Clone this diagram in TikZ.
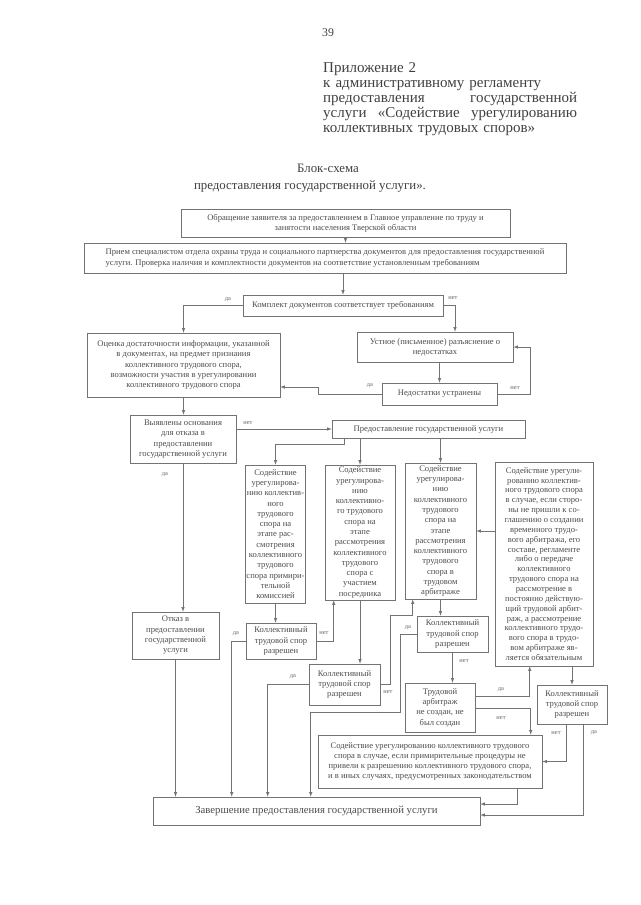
\documentclass[tikz,border=0pt]{standalone}
\usepackage{fontspec}
\setmainfont{Liberation Serif}
\usetikzlibrary{arrows.meta,calc,positioning}

\tikzset{
  blk/.style={draw=black!55, line width=0.5pt, text=black!70, align=center, inner sep=1pt, font=\fontsize{8}{9.6}\selectfont},
  sz/.style 2 args={minimum width=#1*0.0328125cm, minimum height=#2*0.0328125cm},
  lbl/.style={font=\fontsize{6}{7}\selectfont, text=black!60, inner sep=0pt},
  con/.style={draw=black!55, line width=0.5pt, -latex},
}

\begin{document}
\begin{tikzpicture}[x=0.0328125cm, y=-0.0328125cm]
\useasboundingbox[fill=white] (0,0) rectangle (640,905);
    % Heading
    \node[text=black!75, font=\fontsize{11}{12}\selectfont] (pg) at (328,33) {39};
    \node[anchor=north west, inner sep=0pt, text width=8.33cm, align=left, text=black!75, font=\fontsize{14}{14.2}\selectfont] (pril) at (323,62) {Приложение 2\\к административному регламенту\\предоставления\hfill государственной\\услуги\hfill «Содействие\hfill урегулированию\\коллективных трудовых споров»};
    \node[text=black!75, font=\fontsize{12}{14}\selectfont] (tit1) at (328,168) {Блок-схема};
    \node[text=black!75, font=\fontsize{12}{14}\selectfont] (tit2) at (310,186) {предоставления государственной услуги».};
    % Steps before the service
    \node[blk, sz={329}{28}] (obr) at (345.5,223) {Обращение заявителя за предоставлением в Главное управление по труду и\\занятости населения Тверской области};
    \node[blk, sz={482}{30}, align=left] (priem) at (325,258) {Прием специалистом отдела охраны труда и социального партнерства документов для предоставления государственной\\услуги. Проверка наличия и комплектности документов на соответствие установленным требованиям};
    \node[blk, sz={200}{21}] (kompl) at (343,305.5) {Комплект документов соответствует требованиям};
    \node[blk, sz={193}{64}] (ocenka) at (183.5,365) {Оценка достаточности информации, указанной\\в документах, на предмет признания\\коллективного трудового спора,\\возможности участия в урегулировании\\коллективного трудового спора};
    \node[blk, sz={156}{30}] (razyasn) at (435,347) {Устное (письменное) разъяснение о\\недостатках};
    \node[blk, sz={115}{22}] (ustr) at (439.5,394) {Недостатки устранены};
    \node[blk, sz={106}{48}] (osnov) at (183,439) {Выявлены основания\\для отказа в\\предоставлении\\государственной услуги};
    \node[blk, sz={193}{18}] (predost) at (428.5,429) {Предоставление государственной услуги};
    \node[blk, sz={87}{47}] (otkaz) at (175.5,635.5) {Отказ в\\предоставлении\\государственной\\услуги};
    % Four ways of settling
    \node[blk, sz={57}{138}] (komis) at (275.5,534) {Содействие\\урегулирова-\\нию коллектив-\\ного\\трудового\\спора на\\этапе рас-\\смотрения\\коллективного\\трудового\\спора примири-\\тельной\\комиссией};
    \node[blk, sz={70}{135}] (posred) at (360,532.5) {Содействие\\урегулирова-\\нию\\коллективно-\\го трудового\\спора на\\этапе\\рассмотрения\\коллективного\\трудового\\спора с\\участием\\посредника};
    \node[blk, sz={71}{136}] (arbitr) at (440.5,531) {Содействие\\урегулирова-\\нию\\коллективного\\трудового\\спора на\\этапе\\рассмотрения\\коллективного\\трудового\\спора в\\трудовом\\арбитраже};
    \node[blk, sz={98}{204}, font=\fontsize{8}{9.2}\selectfont] (nesogl) at (544,564) {Содействие урегули-\\рованию коллектив-\\ного трудового спора\\в случае, если сторо-\\ны не пришли к со-\\глашению о создании\\временного трудо-\\вого арбитража, его\\составе, регламенте\\либо о передаче\\коллективного\\трудового спора на\\рассмотрение в\\постоянно действую-\\щий трудовой арбит-\\раж, а рассмотрение\\коллективного трудо-\\вого спора в трудо-\\вом арбитраже яв-\\ляется обязательным};
    % Outcomes
    \node[blk, sz={70}{36}] (razr1) at (281,641) {Коллективный\\трудовой спор\\разрешен};
    \node[blk, sz={71}{41}] (razr2) at (344.5,684.5) {Коллективный\\трудовой спор\\разрешен};
    \node[blk, sz={71}{36}] (razr3) at (452.5,634) {Коллективный\\трудовой спор\\разрешен};
    \node[blk, sz={70}{49}] (nesozd) at (440,707.5) {Трудовой\\арбитраж\\не создан, не\\был создан};
    \node[blk, sz={70}{39}] (razr4) at (572,704.5) {Коллективный\\трудовой спор\\разрешен};
    \node[blk, sz={224}{53}] (inye) at (430,761.5) {Содействие урегулированию коллективного трудового\\спора в случае, если примирительные процедуры не\\привели к разрешению коллективного трудового спора,\\и в иных случаях, предусмотренных законодательством};
    \node[blk, sz={327}{28}, font=\fontsize{10}{12}\selectfont] (zaversh) at (316.5,811) {Завершение предоставления государственной услуги};
    %
% Connectors of the first steps:
 \draw[con] (obr.south) -- (obr.south |- priem.north);
 \draw[con] (kompl.north |- priem.south) -- (kompl.north);
 \draw[con] (kompl.west) -| (ocenka.north);
 \draw[con] (kompl.east) -| ($(razyasn.north)+(20,0)$);
 \draw[con] (razyasn.south -| ustr.north) -- (ustr.north);
 \draw[con] (ustr.west) -| ($(ocenka.east)+(38,22)$) -- ($(ocenka.east)+(0,22)$);
 \draw[con] (ustr.east) -- ++(33,0) |- (razyasn.east);
 \draw[con] (ocenka.south) -- (ocenka.south |- osnov.north);
 \draw[con] (osnov.east |- predost.west) -- (predost.west);
 \draw[con] (osnov.south) -- (osnov.south |- otkaz.north);
 \draw[con] (otkaz.south) -- (otkaz.south |- zaversh.north);
 % Connectors to the four ways:
 \draw[con] ($(predost.south west)+(13,0)$) -- ++(0,6) -| (komis.north);
 \draw[con] (posred.north |- predost.south) -- (posred.north);
 \draw[con] (arbitr.north |- predost.south) -- (arbitr.north);
 \draw[con] (nesogl.west |- arbitr.east) -- (arbitr.east);
 % Connectors of the outcomes:
 \draw[con] (komis.south) -- (komis.south |- razr1.north);
 \draw[con] (posred.south) -- (posred.south |- razr2.north);
 \draw[con] (arbitr.south) -- (arbitr.south |- razr3.north);
 \draw[con] (razr4.north |- nesogl.south) -- (razr4.north);
 \draw[con] (razr1.west) -| ($(zaversh.north west)+(79,0)$);
 \draw[con] (razr1.east) -| ($(posred.south west)+(9,0)$);
 \draw[con] (razr2.west) -| ($(zaversh.north west)+(115,0)$);
 \draw[con] (razr2.east) -- ++(10,0) |- ($(arbitr.south west)+(8,16)$) -- ($(arbitr.south west)+(8,0)$);
 \draw[con] (razr3.west) -- ++(-16,0) -- ++(0,78) -| ($(zaversh.north west)+(158,0)$);
 \draw[con] (razr3.south) -- (razr3.south |- nesozd.north);
 \draw[con] ($(nesozd.east)+(0,-11)$) -| ($(nesogl.south west)+(35,0)$);
 \draw[con] ($(nesozd.east)+(0,1)$) -| ($(inye.north west)+(213,0)$);
 \draw[con] ($(razr4.south west)+(30,0)$) |- (inye.east);
 \draw[con] ($(razr4.south west)+(47,0)$) |- ($(zaversh.east)+(0,4)$);
 \draw[con] ($(inye.south west)+(200,0)$) |- ($(zaversh.east)+(0,-7)$);
 % Yes / no labels
 \node[lbl] (da1) at (228,300) {да};
 \node[lbl] (net1) at (453,298) {нет};
 \node[lbl] (da2) at (370,386) {да};
 \node[lbl] (net2) at (515,388) {нет};
 \node[lbl] (net3) at (248,423) {нет};
 \node[lbl] (da3) at (165,475) {да};
 \node[lbl] (da4) at (236,634) {да};
 \node[lbl] (net4) at (324,633) {нет};
 \node[lbl] (da5) at (293,677) {да};
 \node[lbl] (net5) at (388,692) {нет};
 \node[lbl] (da6) at (408,628) {да};
 \node[lbl] (net6) at (464,661) {нет};
 \node[lbl] (da7) at (501,690) {да};
 \node[lbl] (net7) at (501,718) {нет};
 \node[lbl] (net8) at (556,733) {нет};
 \node[lbl] (da8) at (594,733) {да};
\end{tikzpicture}
\end{document}
